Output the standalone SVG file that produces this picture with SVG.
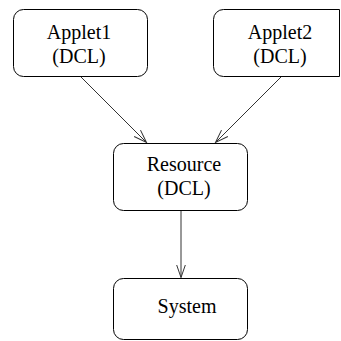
<svg xmlns="http://www.w3.org/2000/svg" width="341" height="341" viewBox="0 0 341 341">
<style>
.box{fill:#fff;stroke:#000;stroke-width:1}
.lbl{font-family:'Liberation Serif','DejaVu Serif',serif;font-size:20px;fill:#000;text-anchor:middle}
.edge{stroke:#333;stroke-width:1;fill:none}
</style>
<defs>
<marker id="arr" markerWidth="14" markerHeight="12" viewBox="0 0 14 12" refX="13" refY="6" orient="auto" markerUnits="userSpaceOnUse">
<path d="M0,1.5 L13,6 L0,10.5" fill="none" stroke="#333" stroke-width="1"/>
</marker>
</defs>
<rect width="341" height="341" fill="#fff"/>
<g id="connectors">
<line class="edge" x1="80" y1="76" x2="146.5" y2="142.5" marker-end="url(#arr)"/>
<line class="edge" x1="282" y1="76" x2="215.5" y2="142.5" marker-end="url(#arr)"/>
<line class="edge" x1="181" y1="211" x2="181" y2="277.5" marker-end="url(#arr)"/>
</g>
<g id="applet1">
<rect class="box" x="13.5" y="9.5" width="134" height="67" rx="10"/>
<text class="lbl" x="79" y="39">Applet1</text>
<text class="lbl" x="79" y="63">(DCL)</text>
</g>
<g id="applet2">
<path class="box" d="M339.5,9.5 H223.5 A10,10 0 0 0 213.5,19.5 V66.5 A10,10 0 0 0 223.5,76.5 H339.5 Z"/>
<text class="lbl" x="280" y="39">Applet2</text>
<text class="lbl" x="280" y="63">(DCL)</text>
</g>
<g id="resource">
<rect class="box" x="113.5" y="143.5" width="134" height="67" rx="10"/>
<text class="lbl" x="184" y="171">Resource</text>
<text class="lbl" x="184" y="195">(DCL)</text>
</g>
<g id="system">
<rect class="box" x="113.5" y="278.5" width="134" height="61" rx="10"/>
<text class="lbl" x="187" y="313">System</text>
</g>
</svg>
